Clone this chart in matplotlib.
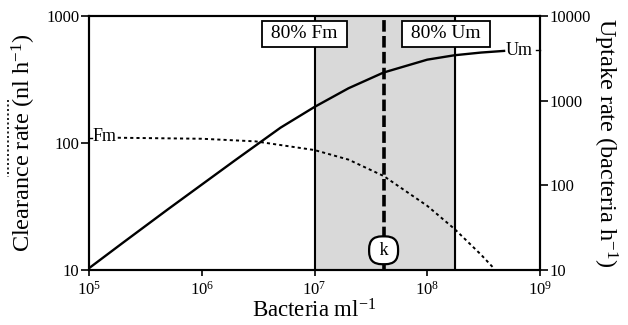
import matplotlib
matplotlib.use("Agg")
import matplotlib.pyplot as plt
from matplotlib.lines import Line2D
from matplotlib.ticker import NullLocator

# bacteria concentration (ml-1)
bact_um = [1e5, 2e5, 5e5, 1e6, 2e6, 5e6, 1e7, 2e7, 4.1e7, 1e8, 1.75e8, 3e8, 4.8e8]
uptake = [10.5, 21, 52, 102, 200, 480, 843, 1400, 2150, 3050, 3440, 3700, 3870]

bact_fm = [1.8e5, 1e6, 3e6, 1e7, 2e7, 4.1e7, 1e8, 1.75e8, 3e8, 3.9e8]
clearance = [110, 108, 103, 88, 74, 55, 32, 21, 13.2, 10.3]

k_value = 4.1e7
fm80 = 1e7
um80 = 1.75e8

xticks = [1e5, 1e6, 1e7, 1e8, 1e9]
xticklabels = ["10$^5$", "10$^6$", "10$^7$", "10$^8$", "10$^9$"]
lticks = [10, 100, 1000]
rticks = [10, 100, 1000, 10000]

plt.rcParams['font.family'] = ['Liberation Serif', 'DejaVu Serif']
plt.rcParams['mathtext.fontset'] = 'custom'
plt.rcParams['mathtext.rm'] = 'Liberation Serif'
plt.rcParams['mathtext.it'] = 'Liberation Serif'

fig = plt.figure(figsize=(6.28, 3.25), dpi=100)
ax = fig.add_axes([0.1417, 0.1692, 0.8599 - 0.1417, 0.9508 - 0.1692])
ax2 = ax.twinx()

ax.set_xscale('log')
ax.set_yscale('log')
ax2.set_yscale('log')
ax.set_xlim(1e5, 1e9)
ax.set_ylim(10, 1000)
ax2.set_ylim(10, 10000)

# shaded zone between 80% Fm and 80% Um
ax.axvspan(fm80, um80, color='#d9d9d9', zorder=0)
ax.axvline(fm80, color='black', lw=1.5, zorder=1)
ax.axvline(um80, color='black', lw=1.5, zorder=1)
ax.axvline(k_value, color='black', lw=2.6, ls=(0, (3.2, 1.2)), zorder=2)

ax.plot(bact_fm, clearance, color='black', lw=1.4, ls=(0, (1.6, 1.6)), zorder=3)
ax2.plot(bact_um, uptake, color='black', lw=1.7, zorder=3)

ax.text(1.07e5, 112, "Fm", fontsize=13, ha='left', va='center', zorder=4)
ax.plot([1e5, 1.06e5], [110, 110], color='black', lw=1.0, zorder=4)
ax2.text(5.0e8, 3950, "Um", fontsize=13, ha='left', va='center', zorder=4)
ax2.plot([9.3e8, 1e9], [3950, 3950], color='black', lw=1.0, zorder=4, clip_on=False)

box = dict(boxstyle='square,pad=0.22', facecolor='white', edgecolor='black', lw=1.3)
ax.text(10 ** 6.91, 725, " 80% Fm ", fontsize=14, ha='center', va='center', bbox=box, zorder=5)
ax.text(10 ** 8.165, 725, " 80% Um ", fontsize=14, ha='center', va='center', bbox=box, zorder=5)
ax.text(k_value, 14.3, " k ", fontsize=13, ha='center', va='center', zorder=5,
        bbox=dict(boxstyle='round,pad=0.3,rounding_size=0.7', facecolor='white',
                  edgecolor='black', lw=1.6))

ax.set_xticks(xticks)
ax.set_xticklabels(xticklabels)
ax.set_yticks(lticks)
ax.set_yticklabels([str(v) for v in lticks])
ax2.set_yticks(rticks)
ax2.set_yticklabels([str(v) for v in rticks])
ax.xaxis.set_minor_locator(NullLocator())
ax.yaxis.set_minor_locator(NullLocator())
ax2.yaxis.set_minor_locator(NullLocator())

for a in (ax, ax2):
    a.tick_params(direction='out', length=6, width=1.2, labelsize=12, pad=1)
    for s in a.spines.values():
        s.set_linewidth(1.5)
ax.tick_params(axis='x', length=4, pad=4)

ax.set_xlabel("Bacteria ml$^{-1}$", fontsize=16.5, labelpad=0)
ax.set_ylabel("Clearance rate (nl h$^{-1}$)", fontsize=17.5, labelpad=6)
ax2.set_ylabel("Uptake rate (bacteria h$^{-1}$)", fontsize=17.5, rotation=270, labelpad=20)

# dotted key line beside the clearance label
fig.add_artist(Line2D([8 / 628, 8 / 628], [1 - 100 / 325, 1 - 177 / 325],
                      color='black', lw=1.2, ls=(0, (1.2, 1.5))))

fig.savefig("out.png", dpi=100)
